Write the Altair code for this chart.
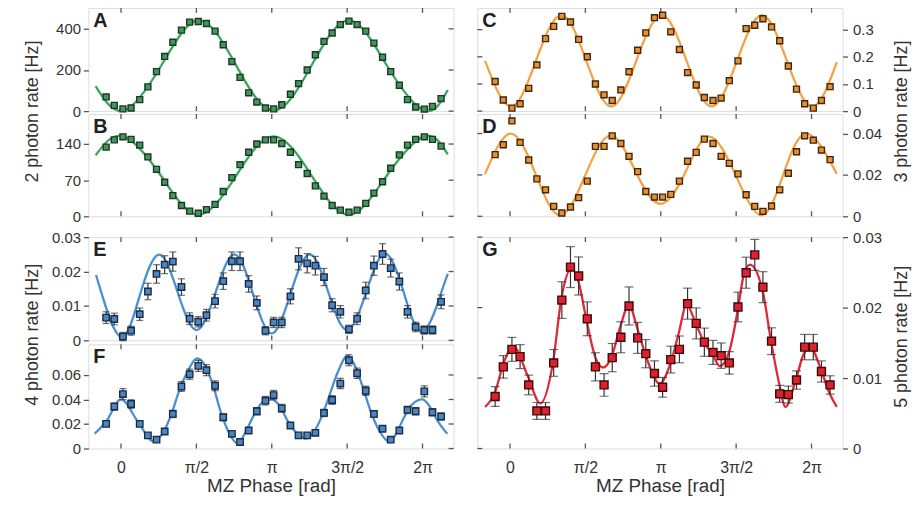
import altair as alt
import pandas as pd

# ---------------- data ----------------
PHASE = [-0.31, -0.14, 0.04, 0.21, 0.39, 0.56, 0.74, 0.91, 1.08, 1.26,
         1.43, 1.61, 1.78, 1.96, 2.13, 2.31, 2.48, 2.66, 2.83, 3.01,
         3.18, 3.35, 3.53, 3.70, 3.88, 4.05, 4.23, 4.40, 4.57, 4.75,
         4.92, 5.10, 5.27, 5.45, 5.62, 5.80, 5.97, 6.14, 6.32, 6.49, 6.67]

A_RATE = [69, 28, 11, 15, 56, 118, 192, 266, 335, 394,
          433, 436, 426, 389, 323, 241, 164, 89, 44, 15,
          11, 31, 82, 134, 200, 274, 339, 380, 421, 438,
          421, 389, 331, 262, 192, 126, 56, 20, 10, 23, 61]
A_FIT_X = [-0.53, 0.06, 0.84, 1.62, 2.40, 3.18, 3.97, 4.75, 5.54, 6.32, 6.81]
A_FIT_Y = [122, 3, 222, 441, 222, 3, 222, 441, 222, 3, 103]

B_RATE = [134, 148, 154, 149, 138, 115, 91, 66, 40, 21,
          10, 6, 13, 23, 48, 75, 100, 124, 140, 148,
          148, 141, 124, 100, 83, 59, 39, 21, 12, 8,
          12, 25, 45, 67, 93, 119, 138, 149, 154, 149, 136]
B_FIT_X = [-0.53, 0.04, 0.83, 1.61, 2.40, 3.18, 3.97, 4.75, 5.54, 6.32, 6.81]
B_FIT_Y = [118, 155, 79, 3, 79, 155, 79, 3, 79, 155, 120]

C_RATE = [0.109, 0.041, 0.011, 0.027, 0.084, 0.170, 0.267, 0.312, 0.349, 0.328,
          0.264, 0.200, 0.100, 0.060, 0.039, 0.078, 0.145, 0.224, 0.288, 0.344,
          0.353, 0.292, 0.227, 0.142, 0.096, 0.050, 0.039, 0.048, 0.112, 0.185,
          0.304, 0.316, 0.340, 0.310, 0.259, 0.166, 0.081, 0.027, 0.011, 0.039, 0.090]
C_FIT_X = [-0.52, 0.02, 0.54, 1.07, 1.59, 2.11, 2.63, 3.16, 3.68, 4.20, 4.73, 5.25, 5.77, 6.30, 6.81]
C_FIT_Y = [0.185, 0.017, 0.185, 0.353, 0.185, 0.017, 0.185, 0.353, 0.185, 0.017, 0.185, 0.353,
           0.185, 0.017, 0.180]

D_RATE = [0.0298, 0.0346, 0.0461, 0.0357, 0.0272, 0.0181, 0.0128, 0.0048, 0.0016, 0.0045,
          0.0090, 0.0170, 0.0338, 0.0338, 0.0389, 0.0352, 0.0290, 0.0216, 0.0120, 0.0093,
          0.0093, 0.0106, 0.0170, 0.0266, 0.0309, 0.0373, 0.0352, 0.0290, 0.0256, 0.0205,
          0.0104, 0.0048, 0.0024, 0.0050, 0.0128, 0.0208, 0.0312, 0.0389, 0.0368, 0.0320, 0.0274]
D_FIT_X = [-0.52, 0.02, 0.54, 1.05, 1.58, 2.10, 2.62, 3.14, 3.66, 4.15, 4.70, 5.24, 5.70, 6.18, 6.81]
D_FIT_Y = [0.0205, 0.0400, 0.0200, 0.0005, 0.0205, 0.0390, 0.0215, 0.0060, 0.0215, 0.0385,
           0.0200, 0.0005, 0.0205, 0.0400, 0.0205]

E_RATE = [0.0066, 0.0062, 0.0011, 0.0028, 0.0076, 0.0142, 0.0193, 0.0220, 0.0229, 0.0155,
          0.0063, 0.0054, 0.0073, 0.0114, 0.0172, 0.0230, 0.0230, 0.0164, 0.0109, 0.0028,
          0.0052, 0.0052, 0.0128, 0.0237, 0.0224, 0.0217, 0.0184, 0.0102, 0.0083, 0.0032,
          0.0063, 0.0145, 0.0217, 0.0251, 0.0210, 0.0171, 0.0083, 0.0039, 0.0030, 0.0030, 0.0112]
E_ERR = [0.0017, 0.0017, 0.0012, 0.0013, 0.0018, 0.0024, 0.0027, 0.0026, 0.0028, 0.0024,
         0.0017, 0.0015, 0.0017, 0.0020, 0.0024, 0.0027, 0.0027, 0.0024, 0.0020, 0.0012,
         0.0015, 0.0015, 0.0022, 0.0032, 0.0028, 0.0027, 0.0025, 0.0019, 0.0018, 0.0012,
         0.0017, 0.0024, 0.0028, 0.0030, 0.0026, 0.0025, 0.0018, 0.0014, 0.0012, 0.0012, 0.0020]
E_FIT_X = [-0.52, -0.39, 0.0, 0.39, 0.79, 1.18, 1.57, 1.96, 2.36, 2.75, 3.14, 3.53, 3.93,
           4.32, 4.71, 5.11, 5.50, 5.89, 6.28, 6.67, 6.81]
E_FIT_Y = [0.0190, 0.0130, 0.0010, 0.0130, 0.0249, 0.0140, 0.0030, 0.0135, 0.0250, 0.0135,
           0.0020, 0.0135, 0.0250, 0.0140, 0.0030, 0.0140, 0.0252, 0.0140, 0.0025, 0.0137, 0.0193]

F_RATE = [0.0201, 0.0342, 0.0444, 0.0363, 0.0201, 0.0107, 0.0072, 0.0139, 0.0282, 0.0506,
          0.0606, 0.0674, 0.0639, 0.0512, 0.0255, 0.0120, 0.0053, 0.0147, 0.0304, 0.0390,
          0.0436, 0.0328, 0.0188, 0.0107, 0.0107, 0.0128, 0.0290, 0.0396, 0.0530, 0.0720,
          0.0614, 0.0471, 0.0282, 0.0161, 0.0072, 0.0147, 0.0315, 0.0304, 0.0466, 0.0296, 0.0261]
F_ERR = [0.0020, 0.0030, 0.0045, 0.0035, 0.0022, 0.0016, 0.0014, 0.0020, 0.0030, 0.0040,
         0.0042, 0.0045, 0.0045, 0.0040, 0.0028, 0.0018, 0.0012, 0.0020, 0.0030, 0.0035,
         0.0038, 0.0032, 0.0022, 0.0016, 0.0016, 0.0018, 0.0030, 0.0036, 0.0042, 0.0045,
         0.0042, 0.0038, 0.0028, 0.0020, 0.0014, 0.0020, 0.0030, 0.0030, 0.0045, 0.0030, 0.0028]
F_FIT_X = [-0.55, -0.31, 0.0, 0.35, 0.67, 0.90, 1.05, 1.22, 1.39, 1.58, 1.75, 1.91, 2.08, 2.26,
           2.43, 2.61, 2.78, 2.95, 3.14, 3.30, 3.47, 3.64, 3.84, 3.99, 4.16, 4.33, 4.50, 4.72,
           4.86, 5.04, 5.21, 5.38, 5.60, 5.73, 5.90, 6.07, 6.28, 6.42, 6.59, 6.80]
F_FIT_Y = [0.0120, 0.0220, 0.0400, 0.0220, 0.0060, 0.0145, 0.0280, 0.0480, 0.0630, 0.0736,
           0.0680, 0.0525, 0.0296, 0.0120, 0.0040, 0.0147, 0.0280, 0.0377, 0.0400, 0.0350,
           0.0228, 0.0134, 0.0080, 0.0120, 0.0240, 0.0417, 0.0606, 0.0755, 0.0687, 0.0498,
           0.0296, 0.0147, 0.0053, 0.0120, 0.0255, 0.0360, 0.0400, 0.0350, 0.0230, 0.0120]

G_RATE = [0.00738, 0.01159, 0.01407, 0.01304, 0.00902, 0.00533, 0.00533, 0.01215, 0.02107, 0.02575,
          0.02449, 0.01841, 0.01159, 0.00902, 0.01290, 0.01579, 0.02023, 0.01570, 0.01346, 0.01065,
          0.00869, 0.01262, 0.01407, 0.02056, 0.01776, 0.01509, 0.01364, 0.01318, 0.01215, 0.02009,
          0.02495, 0.02748, 0.02290, 0.01523, 0.00776, 0.00766, 0.00972, 0.01439, 0.01439, 0.01093,
          0.00902]
G_ERR = [0.0014, 0.0016, 0.0017, 0.0017, 0.0014, 0.0012, 0.0012, 0.0019, 0.0026, 0.0029,
         0.0027, 0.0024, 0.0020, 0.0016, 0.0020, 0.0022, 0.0027, 0.0022, 0.0020, 0.0018,
         0.0014, 0.0019, 0.0019, 0.0022, 0.0022, 0.0020, 0.0017, 0.0018, 0.0016, 0.0021,
         0.0022, 0.0022, 0.0022, 0.0019, 0.0012, 0.0012, 0.0013, 0.0018, 0.0018, 0.0015, 0.0013]
G_FIT_X = [-0.52, -0.31, -0.14, 0.07, 0.38, 0.63, 0.90, 1.07, 1.28, 1.43, 1.60, 1.78, 1.94, 2.12,
           2.29, 2.48, 2.65, 2.82, 3.12, 3.34, 3.51, 3.68, 3.88, 4.05, 4.22, 4.37, 4.57, 4.74,
           4.87, 5.00, 5.27, 5.44, 5.61, 5.74, 5.95, 6.12, 6.26, 6.49, 6.66, 6.81]
G_FIT_Y = [0.0059, 0.0080, 0.0120, 0.0145, 0.0101, 0.0064, 0.0124, 0.0213, 0.0255, 0.0236,
           0.0180, 0.0129, 0.0115, 0.0131, 0.0171, 0.0204, 0.0171, 0.0134, 0.0092, 0.0120,
           0.0162, 0.0204, 0.0176, 0.0150, 0.0134, 0.0117, 0.0138, 0.0194, 0.0246, 0.0261,
           0.0222, 0.0152, 0.0092, 0.0059, 0.0096, 0.0134, 0.0143, 0.0110, 0.0078, 0.0059]

X_TICKS = [0, 1.5708, 3.1416, 4.7124, 6.2832]
X_LABEL_EXPR = ("datum.value < 0.5 ? '0' : datum.value < 2 ? 'π/2' : "
                "datum.value < 3.5 ? 'π' : datum.value < 5 ? '3π/2' : '2π'")

# ---------------- style ----------------
FONT = "Liberation Sans"
FRAME = "#555555"
TXT = "#333333"
W = 368
X_DOMAIN = [-0.68, 6.93]

GREEN = dict(fill="#3d9a5b", stroke="#1f3526", line="#3aa65c")
ORANGE = dict(fill="#e8902f", stroke="#3f2610", line="#f2a444")
BLUE = dict(fill="#4a86c5", stroke="#1c2c40", line="#4a90d0")
RED = dict(fill="#e0202e", stroke="#3a0a0a", line="#e02838")


def panel(letter, rate, fit_x, fit_y, ydom, yticks, col, height, side,
          err=None, bottom=False, ytitle=None, title_pos=None,
          msize=36, cap=7, interp="natural"):
    xscale = alt.Scale(domain=X_DOMAIN, nice=False, zero=False)
    yscale = alt.Scale(domain=ydom, nice=False, zero=False)
    if bottom:
        xaxis = alt.Axis(values=X_TICKS, labelExpr=X_LABEL_EXPR, ticks=False, domain=False,
                         grid=False, labelPadding=11, labelFontSize=16, labelColor=TXT,
                         labelFont=FONT, labelFlush=False, title="MZ Phase [rad]",
                         titleFont=FONT, titleFontSize=19, titleFontWeight="normal",
                         titleColor=TXT, titlePadding=1)
    else:
        xaxis = None
    yargs = dict(orient=side, values=yticks, format=".3~g", ticks=True, tickSize=5,
                 tickColor=FRAME, tickWidth=1.3, domain=False, grid=False,
                 labelPadding=3 if side == "left" else 5,
                 labelFontSize=15, labelColor=TXT, labelFont=FONT)
    if ytitle:
        yargs.update(title=ytitle, titleFont=FONT, titleFontSize=18, titleFontWeight="normal",
                     titleColor=TXT, titleX=title_pos[0], titleY=title_pos[1], titleAngle=270,
                     titleAlign="center", titleBaseline="middle")
    else:
        yargs.update(title="")
    yaxis = alt.Axis(**yargs)

    def X(field):
        return alt.X(field, type="quantitative", scale=xscale, axis=xaxis)

    def Y(field):
        return alt.Y(field, type="quantitative", scale=yscale, axis=yaxis)

    pts = pd.DataFrame({"x": PHASE, "y": rate})
    fit = pd.DataFrame({"x": fit_x, "y": fit_y})
    xt = pd.DataFrame({"x": X_TICKS})
    yt = pd.DataFrame({"y": yticks})

    layers = []
    rule = dict(color=FRAME, strokeWidth=1.3)
    layers.append(alt.Chart(xt).mark_rule(**rule).encode(
        x=X("x"), y=alt.value(0), y2=alt.value(5)))
    layers.append(alt.Chart(xt).mark_rule(**rule).encode(
        x=X("x"), y=alt.value(height - 5), y2=alt.value(height)))
    if side == "left":
        layers.append(alt.Chart(yt).mark_rule(**rule).encode(
            y=Y("y"), x=alt.value(W - 5), x2=alt.value(W)))
    else:
        layers.append(alt.Chart(yt).mark_rule(**rule).encode(
            y=Y("y"), x=alt.value(0), x2=alt.value(5)))

    layers.append(alt.Chart(fit).mark_line(color=col["line"], strokeWidth=2.3,
                                           interpolate=interp).encode(x=X("x"), y=Y("y")))
    if err is not None:
        eb = pd.DataFrame({"x": PHASE,
                           "lo": [v - e for v, e in zip(rate, err)],
                           "hi": [v + e for v, e in zip(rate, err)]})
        layers.append(alt.Chart(eb).mark_rule(color="#333333", strokeWidth=1.2).encode(
            x=X("x"), y=Y("lo"), y2="hi:Q"))
        layers.append(alt.Chart(eb).mark_tick(color="#333333", thickness=1.2, size=cap,
                                              orient="horizontal").encode(x=X("x"), y=Y("lo")))
        layers.append(alt.Chart(eb).mark_tick(color="#333333", thickness=1.2, size=cap,
                                              orient="horizontal").encode(x=X("x"), y=Y("hi")))
    layers.append(alt.Chart(pts).mark_square(size=msize, filled=True, fill=col["fill"],
                                             stroke=col["stroke"], strokeWidth=1.4,
                                             opacity=1).encode(x=X("x"), y=Y("y")))
    layers.append(alt.Chart(pd.DataFrame({"t": [letter]})).mark_text(
        align="left", baseline="top", font=FONT, fontSize=20, fontWeight="bold",
        color="#222222").encode(text="t:N", x=alt.value(5), y=alt.value(3)))

    return alt.layer(*layers).properties(width=W, height=height)


pA = panel("A", A_RATE, A_FIT_X, A_FIT_Y, [0, 502], [0, 200, 400], GREEN, 104, "left",
           ytitle="2 photon rate [Hz]", title_pos=(-56, 104))
pB = panel("B", B_RATE, B_FIT_X, B_FIT_Y, [0, 198], [0, 70, 140], GREEN, 103, "left")
pE = panel("E", E_RATE, E_FIT_X, E_FIT_Y, [0, 0.03], [0, 0.01, 0.02, 0.03], BLUE, 104, "left",
           err=E_ERR, ytitle="4 photon rate [Hz]", title_pos=(-56, 98), msize=42)
pF = panel("F", F_RATE, F_FIT_X, F_FIT_Y, [0, 0.085], [0, 0.02, 0.04, 0.06], BLUE, 105, "left",
           err=F_ERR, bottom=True, msize=42, interp="monotone")

pC = panel("C", C_RATE, C_FIT_X, C_FIT_Y, [0, 0.38], [0, 0.1, 0.2, 0.3], ORANGE, 104, "right",
           ytitle="3 photon rate [Hz]", title_pos=(59, 104))
pD = panel("D", D_RATE, D_FIT_X, D_FIT_Y, [0, 0.0494], [0, 0.02, 0.04], ORANGE, 103, "right")
pG = panel("G", G_RATE, G_FIT_X, G_FIT_Y, [0, 0.03], [0, 0.01, 0.02, 0.03], RED, 213, "right",
           err=G_ERR, bottom=True, ytitle="5 photon rate [Hz]", title_pos=(59, 100),
           msize=64, cap=9, interp="monotone")

AB = alt.vconcat(pA, pB, spacing=3, bounds="flush")
EF = alt.vconcat(pE, pF, spacing=4, bounds="flush")
CD = alt.vconcat(pC, pD, spacing=3, bounds="flush")
left = alt.vconcat(AB, EF, spacing=4)
right = alt.vconcat(CD, pG, spacing=4)

chart = alt.hconcat(left, right, spacing=20).properties(
    padding={"left": 15, "top": -4, "right": 5, "bottom": 5}
).configure_view(stroke=FRAME, strokeWidth=1.6).configure(background="white")

chart.save("out.html", embed_options={"renderer": "svg", "actions": False})
